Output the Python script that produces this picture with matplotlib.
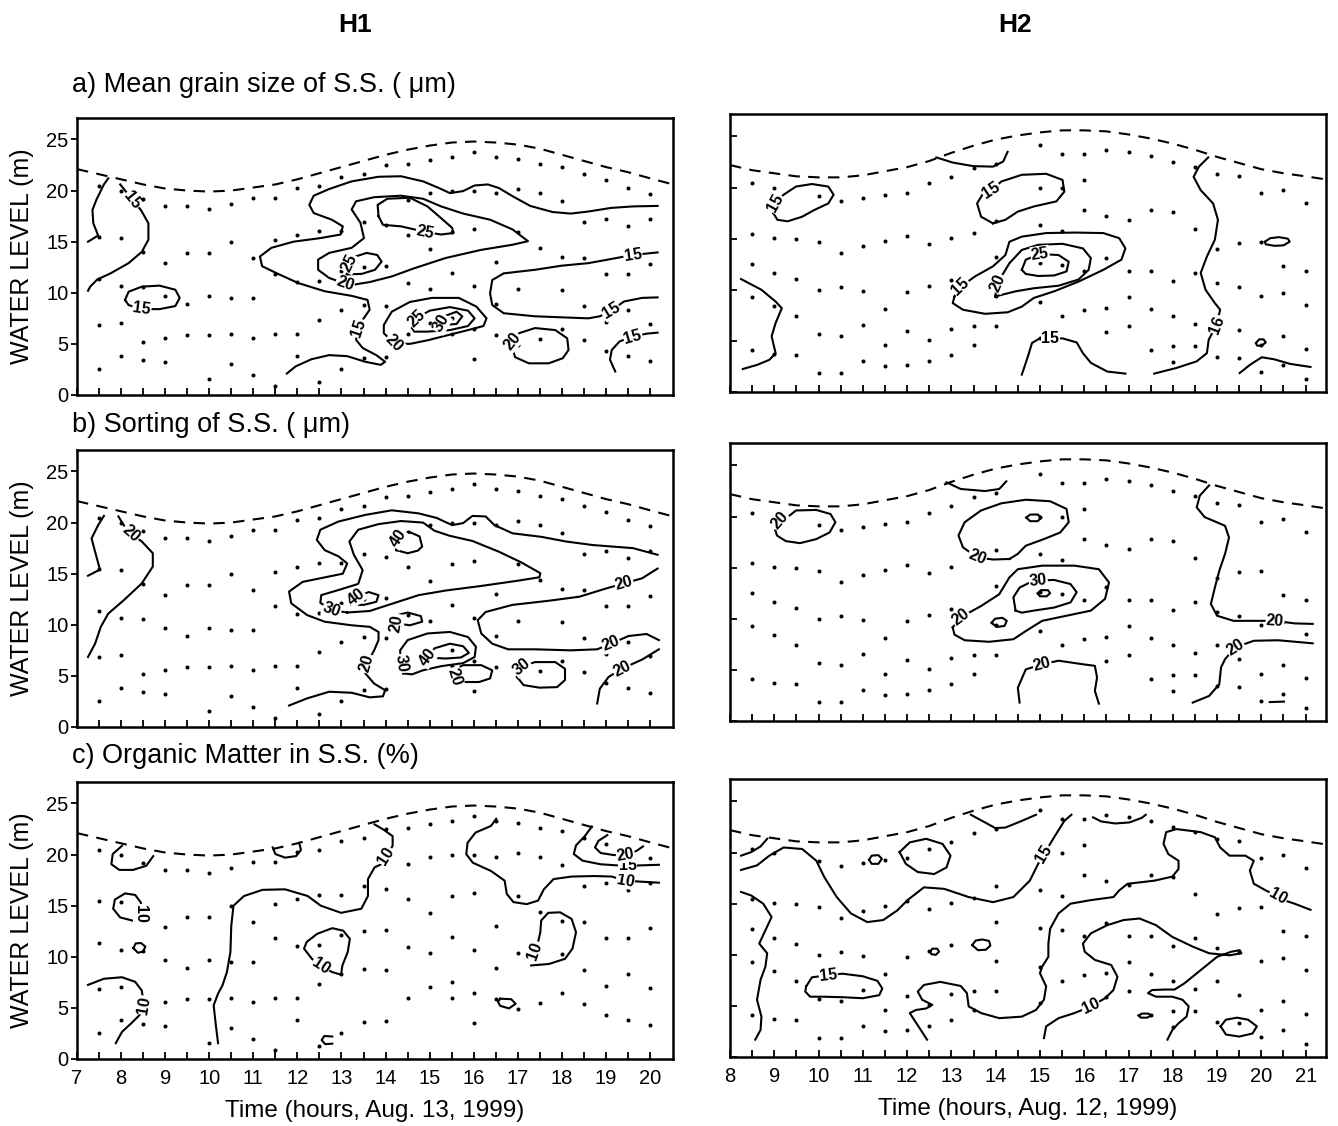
import numpy as np
import matplotlib
matplotlib.use("Agg")
import matplotlib.pyplot as plt

plt.rcParams['font.family'] = ['Liberation Sans', 'DejaVu Sans']

# sampling points (time in hours, water levels in m) for each station
h1_times = [7.5, 8.0, 8.5, 9.0, 9.5, 10.0, 10.5, 11.0, 11.5, 12.0, 12.5, 13.0, 13.5,
            14.0, 14.5, 15.0, 15.5, 16.0, 16.5, 17.0, 17.5, 18.0, 18.5, 19.0, 19.5, 20.0]
h1_levels = [[20.4, 15.5, 11.3, 6.8, 2.5], [20.0, 15.4, 10.7, 7.0, 3.8],
             [19.2, 14.0, 10.6, 5.2, 3.4], [18.5, 12.9, 9.7, 5.6, 3.2],
             [18.5, 13.9, 8.9, 5.9], [18.2, 13.9, 9.7, 5.9, 1.6],
             [18.7, 15.0, 9.5, 6.0, 3.0], [19.3, 13.4, 9.5, 5.6, 2.0],
             [19.3, 15.2, 11.8, 6.0, 0.9], [20.3, 15.7, 11.1, 6.0, 3.8],
             [20.4, 16.0, 11.2, 7.3, 1.3], [21.3, 16.0, 12.1, 8.3, 2.5],
             [21.6, 16.9, 12.5, 8.8, 3.6], [22.5, 16.6, 12.6, 8.7, 3.7],
             [22.6, 19.1, 15.7, 11.0, 6.0], [23.0, 19.8, 14.3, 10.4, 7.0],
             [23.3, 20.0, 15.9, 11.9, 7.5, 6.0], [23.8, 20.0, 16.2, 10.7, 6.5, 3.5],
             [23.3, 19.8, 13.0, 8.9, 5.9], [23.1, 20.2, 15.9, 10.4, 4.9],
             [22.6, 19.8, 14.4, 5.5], [22.3, 19.0, 13.5, 10.3, 6.5],
             [21.6, 16.9, 13.4, 8.7, 5.4], [21.0, 17.2, 11.8, 7.1, 4.3],
             [20.3, 16.5, 11.8, 8.3, 3.8], [19.7, 17.2, 12.8, 6.9, 3.3]]

h2_times = [8.5, 9.0, 9.5, 10.0, 10.5, 11.0, 11.5, 12.0, 12.5, 13.0, 13.5, 14.0,
            15.0, 15.5, 16.0, 16.5, 17.0, 17.5, 18.0, 18.5, 19.0, 19.5, 20.0, 20.5, 21.0]
h2_levels = [[20.4, 15.5, 12.5, 9.3, 4.1], [20.0, 15.1, 11.6, 8.4, 3.7],
             [15.0, 11.1, 7.4, 3.6], [19.2, 14.7, 10.0, 5.7, 1.9],
             [18.7, 13.6, 10.3, 5.5, 1.9], [19.0, 14.3, 9.9, 6.6, 3.0],
             [19.3, 14.8, 8.1, 4.6, 2.5], [19.5, 15.3, 9.8, 6.0, 2.6],
             [20.4, 14.5, 10.4, 5.1, 3.0], [21.0, 15.1, 11.0, 6.2, 3.6],
             [21.9, 15.6, 6.5, 4.6], [22.3, 16.7, 13.2, 9.4, 6.5],
             [24.2, 20.0, 16.3, 12.6, 8.8, 5.3], [23.3, 20.0, 15.8, 12.4, 7.4],
             [23.3, 20.7, 17.8, 11.8, 8.0], [23.7, 17.2, 13.1, 8.2, 5.9],
             [23.5, 16.8, 11.8, 9.3, 6.5], [23.1, 17.8, 11.8, 8.1, 4.1],
             [22.5, 17.6, 10.9, 7.4, 4.5, 2.9], [22.0, 15.9, 11.6, 6.7, 4.5],
             [21.3, 14.0, 10.7, 7.4, 3.4], [21.1, 14.6, 10.3, 6.1, 3.3],
             [19.5, 14.7, 9.4, 4.6, 2.0], [19.8, 12.3, 9.7, 5.5, 2.6],
             [18.5, 11.8, 8.5, 4.2, 1.3]]

# water surface (dashed line)
h1_surf_t = [7.0, 7.5, 8, 8.5, 9, 9.5, 10, 10.5, 11, 11.5, 12, 12.5, 13, 13.5, 14,
             14.5, 15, 15.5, 16, 16.5, 17, 17.5, 18, 18.5, 19, 19.5, 20, 20.52]
h1_surf_z = [22.1, 21.6, 21.1, 20.6, 20.2, 20.0, 19.9, 20.0, 20.3, 20.6, 21.1, 21.7, 22.3,
             22.9, 23.5, 24.0, 24.4, 24.7, 24.8, 24.7, 24.5, 24.1, 23.5, 22.9, 22.3, 21.8,
             21.2, 20.6]
h2_surf_t = [8.0, 8.5, 9, 9.5, 10, 10.5, 11, 11.5, 12, 12.5, 13, 13.5, 14, 14.5, 15,
             15.5, 16, 16.5, 17, 17.5, 18, 18.5, 19, 19.5, 20, 20.5, 21, 21.46]
h2_surf_z = [22.2, 21.7, 21.4, 21.1, 21.0, 21.0, 21.2, 21.6, 22.0, 22.6, 23.4, 24.1, 24.7,
             25.1, 25.4, 25.6, 25.6, 25.5, 25.2, 24.8, 24.3, 23.7, 23.0, 22.4, 21.8, 21.4,
             21.1, 20.8]

# isolines: (value, [(hour, level), ...], indices of labelled vertices)
h1_grain = [
    (15, [(7.25, 15.0), (7.48, 15.6), (7.37, 16.8), (7.35, 18.1), (7.44, 19.1), (7.61, 20.6), (7.71, 21.2)], []),
    (15, [(7.98, 20.6), (8.11, 19.9), (8.25, 19.05), (8.45, 18.1), (8.62, 16.8), (8.62, 15.2), (8.47, 14.0),
          (8.17, 12.9), (7.76, 11.9), (7.46, 11.3), (7.30, 10.6), (7.25, 10.2)], [2]),
    (15, [(8.09, 9.3), (8.17, 10.1), (8.47, 10.6), (8.87, 10.7), (9.23, 10.3), (9.33, 9.5), (9.23, 8.7),
          (8.87, 8.4), (8.47, 8.4), (8.17, 8.8), (8.09, 9.3)], [8]),
    (15, [(20.17, 18.5), (19.61, 18.45), (19.11, 18.3), (18.60, 17.95), (18.20, 17.75), (17.79, 17.9),
          (17.28, 18.5), (16.88, 19.45), (16.57, 20.25), (16.32, 20.6), (16.02, 20.5), (15.76, 19.95),
          (15.46, 19.75), (15.21, 20.25), (14.85, 20.9), (14.35, 21.4), (13.84, 21.35), (13.23, 20.9),
          (12.72, 20.15), (12.37, 19.5), (12.27, 18.6), (12.37, 17.8), (12.78, 17.15), (13.03, 16.5),
          (12.98, 15.7), (12.52, 15.35), (11.91, 15.0), (11.41, 14.4), (11.15, 13.55), (11.20, 12.6),
          (11.51, 11.95), (12.02, 10.95), (12.62, 10.15), (13.23, 9.7), (13.59, 9.3), (13.64, 8.35),
          (13.48, 7.35), (13.38, 6.55), (13.33, 5.4), (13.48, 4.6), (13.79, 3.9), (13.99, 3.25),
          (13.89, 2.95), (13.54, 3.25), (13.13, 3.8), (12.72, 3.9), (12.32, 3.5), (11.96, 2.8),
          (11.76, 2.1)], [37]),
    (15, [(20.17, 13.95), (19.61, 13.7), (19.11, 13.3), (18.60, 12.9), (17.99, 12.65), (17.39, 12.25),
          (16.68, 11.9), (16.42, 11.25), (16.37, 9.95), (16.42, 8.8), (16.68, 8.0), (17.39, 7.7),
          (17.99, 7.6), (18.60, 7.5), (18.86, 7.7), (19.11, 8.25), (19.41, 9.15), (19.82, 9.5),
          (20.17, 9.55)], [1, 15]),
    (20, [(13.08, 10.9), (12.72, 11.45), (12.47, 12.25), (12.47, 13.25), (12.72, 13.9), (13.23, 14.4),
          (13.51, 15.35), (13.43, 16.85), (13.23, 18.15), (13.33, 18.95), (13.74, 19.35), (14.35, 19.5),
          (14.85, 19.2), (15.26, 18.45), (15.76, 17.75), (16.37, 17.15), (16.88, 16.2), (17.23, 15.05),
          (16.88, 14.7), (16.17, 14.2), (15.36, 13.4), (14.65, 12.4), (14.14, 11.6), (13.64, 11.05),
          (13.28, 10.8), (13.08, 10.9)], [0]),
    (25, [(13.84, 17.5), (13.82, 18.6), (14.04, 19.2), (14.55, 19.3), (14.95, 18.45), (15.26, 17.3),
          (15.51, 16.35), (15.54, 15.85), (15.26, 15.7), (14.90, 15.95), (14.35, 16.5), (13.94, 16.65),
          (13.84, 17.5)], [9]),
    (25, [(13.12, 11.8), (13.17, 12.9), (13.32, 13.55), (13.57, 13.9), (13.81, 13.7), (13.91, 13.05),
          (13.76, 12.25), (13.46, 11.85), (13.12, 11.8)], [1]),
    (20, [(14.19, 5.05), (13.96, 6.05), (13.96, 6.85), (14.14, 8.15), (14.55, 9.1), (15.05, 9.5),
          (15.66, 9.5), (16.06, 8.65), (16.29, 7.5), (16.22, 6.75), (15.87, 6.35), (15.36, 5.8),
          (14.95, 5.35), (14.55, 5.0), (14.19, 5.05)], [0]),
    (25, [(14.60, 6.55), (14.70, 7.5), (15.0, 8.25), (15.46, 8.6), (15.87, 8.25), (16.02, 7.5),
          (15.87, 6.75), (15.46, 6.35), (14.95, 6.2), (14.65, 6.2), (14.60, 6.55)], [1]),
    (30, [(15.26, 7.0), (15.36, 7.75), (15.61, 8.15), (15.74, 7.7), (15.61, 6.95), (15.31, 6.85),
          (15.26, 7.0)], [0]),
    (20, [(16.88, 5.25), (17.03, 6.05), (17.39, 6.55), (17.85, 6.35), (18.12, 5.55), (18.15, 4.4),
          (18.02, 3.6), (17.70, 3.1), (17.25, 3.1), (16.94, 3.7), (16.87, 4.6), (16.88, 5.25)], [0]),
    (15, [(19.21, 2.3), (19.09, 3.45), (19.13, 4.4), (19.31, 5.25), (19.61, 5.7), (19.92, 6.0),
          (20.17, 6.1)], [4]),
]

h1_sorting = [
    (20, [(7.25, 14.8), (7.52, 15.4), (7.42, 17.0), (7.33, 18.45), (7.48, 19.75), (7.61, 20.65)], []),
    (20, [(7.94, 20.6), (8.06, 19.75), (8.22, 18.9), (8.47, 18.15), (8.72, 17.0), (8.72, 15.7),
          (8.47, 14.05), (8.06, 12.4), (7.71, 11.1), (7.54, 9.8), (7.41, 8.15), (7.25, 6.85)], [2]),
    (20, [(20.17, 16.85), (19.61, 17.5), (18.70, 17.8), (18.09, 18.15), (17.54, 18.6), (16.88, 18.95),
          (16.47, 19.75), (16.27, 20.6), (15.97, 20.65), (15.76, 19.95), (15.51, 19.75), (15.16, 20.45),
          (14.75, 20.9), (14.14, 21.2), (13.54, 20.75), (12.93, 20.1), (12.52, 19.3), (12.44, 18.3),
          (12.62, 17.3), (12.93, 16.7), (13.13, 16.0), (13.03, 15.0), (12.52, 14.55), (12.12, 14.2),
          (11.81, 13.25), (11.86, 12.1), (12.22, 10.95), (12.62, 10.3), (13.23, 9.95), (13.64, 9.8),
          (13.84, 9.3), (13.84, 8.5), (13.74, 7.5), (13.64, 6.7), (13.58, 6.2), (13.54, 5.25),
          (13.74, 4.25), (13.99, 3.6), (13.94, 3.0), (13.64, 2.9), (13.23, 3.35), (12.72, 3.45),
          (12.22, 2.8), (11.81, 2.1)], [34]),
    (20, [(20.17, 15.5), (19.82, 14.55), (19.41, 14.05), (19.0, 13.55), (18.40, 12.75), (17.70, 12.35),
          (16.88, 11.95), (16.27, 11.25), (16.09, 10.45), (16.17, 9.15), (16.42, 8.15), (16.78, 7.6),
          (17.39, 7.6), (18.20, 7.5), (18.80, 7.6), (19.11, 8.15), (19.51, 8.9), (19.92, 9.1),
          (20.20, 8.5)], [2, 15]),
    (20, [(18.80, 2.3), (18.86, 3.75), (19.06, 4.9), (19.36, 5.7), (19.82, 6.6), (20.20, 7.6)], [3]),
    (30, [(13.13, 11.2), (12.78, 11.45), (12.52, 12.15), (12.54, 12.9), (12.93, 13.4), (13.38, 14.0),
          (13.48, 15.35), (13.28, 16.85), (13.18, 18.15), (13.38, 19.3), (13.84, 19.85), (14.35, 20.15),
          (14.85, 20.0), (15.11, 19.2), (15.46, 18.7), (15.97, 18.2), (16.57, 17.15), (17.08, 16.1),
          (17.51, 15.05), (17.49, 14.65), (16.98, 14.3), (16.17, 13.8), (15.36, 13.35), (14.75, 12.9),
          (14.14, 12.05), (13.64, 11.35), (13.13, 11.2)], [1]),
    (40, [(14.24, 17.3), (14.29, 18.45), (14.53, 19.1), (14.77, 18.65), (14.83, 17.65), (14.73, 17.25),
          (14.50, 17.0), (14.29, 17.25), (14.24, 17.3)], [1]),
    (40, [(13.23, 11.95), (13.33, 12.75), (13.62, 13.2), (13.84, 12.9), (13.79, 12.25), (13.51, 11.95),
          (13.23, 11.95)], [1]),
    (20, [(14.24, 10.15), (14.27, 10.95), (14.50, 11.2), (14.80, 10.85), (14.83, 10.3), (14.55, 9.95),
          (14.24, 10.15)], [0]),
    (30, [(14.40, 5.25), (14.35, 6.2), (14.33, 7.5), (14.50, 8.5), (14.95, 9.15), (15.46, 9.3),
          (15.87, 8.8), (16.05, 7.85), (16.02, 6.85), (15.76, 6.25), (15.26, 5.95), (14.85, 5.55),
          (14.60, 5.15), (14.40, 5.25)], [1]),
    (40, [(14.95, 6.8), (15.11, 7.7), (15.46, 8.15), (15.76, 7.9), (15.89, 7.25), (15.71, 6.8),
          (15.36, 6.7), (14.95, 6.8)], [0]),
    (20, [(15.56, 4.9), (15.51, 5.55), (15.76, 6.05), (16.17, 6.05), (16.42, 5.55), (16.37, 4.75),
          (16.12, 4.4), (15.76, 4.4), (15.56, 4.9)], [0]),
    (30, [(16.98, 4.9), (17.08, 5.9), (17.39, 6.35), (17.85, 6.35), (18.07, 5.7), (18.07, 4.6),
          (17.89, 3.9), (17.49, 3.85), (17.13, 4.1), (16.98, 4.9)], [1]),
]

h1_organic = [
    (10, [(8.02, 20.85), (7.81, 20.05), (7.78, 19.05), (7.96, 18.5), (8.27, 18.5), (8.57, 18.9),
          (8.73, 19.85)], []),
    (10, [(8.25, 13.55), (7.98, 13.85), (7.82, 14.7), (7.86, 15.6), (8.09, 16.2), (8.32, 16.05),
          (8.45, 15.3), (8.45, 14.2)], [7]),
    (10, [(8.28, 10.85), (8.33, 11.3), (8.45, 11.35), (8.55, 11.0), (8.5, 10.5), (8.38, 10.4),
          (8.28, 10.85)], []),
    (10, [(7.25, 7.25), (7.61, 7.85), (8.02, 8.0), (8.32, 7.55), (8.47, 6.7), (8.49, 6.05), (8.52, 5.25),
          (8.42, 4.3), (8.22, 3.45), (8.02, 2.65), (7.88, 1.55)], [6]),
    (10, [(10.20, 1.55), (10.15, 3.3), (10.10, 5.25), (10.20, 6.4), (10.30, 7.2), (10.40, 8.5),
          (10.48, 10.45), (10.50, 13.05), (10.55, 15.0), (10.79, 15.95), (11.21, 16.55), (11.72, 16.6),
          (12.23, 15.95), (12.53, 15.0), (12.99, 14.3), (13.45, 14.7), (13.60, 15.95), (13.60, 17.6),
          (13.75, 18.75), (13.90, 19.05), (14.01, 19.85), (14.16, 20.85), (14.16, 21.8), (13.95, 22.45),
          (13.75, 22.95)], [20]),
    (10, [(11.44, 20.7), (11.50, 20.05), (11.72, 19.7), (11.97, 19.85), (12.08, 20.45), (12.04, 21.15)], []),
    (10, [(12.99, 8.25), (13.02, 9.15), (13.14, 10.45), (13.19, 11.75), (13.04, 12.55), (12.79, 12.8),
          (12.45, 12.25), (12.21, 11.45), (12.15, 10.8), (12.33, 9.8), (12.53, 9.1), (12.79, 8.5),
          (12.99, 8.25)], [10]),
    (10, [(12.79, 2.2), (12.61, 2.25), (12.55, 1.85), (12.63, 1.45), (12.79, 1.5)], []),
    (10, [(16.51, 23.5), (16.39, 22.8), (16.04, 22.15), (15.86, 21.15), (15.83, 20.05), (15.98, 19.2),
          (16.39, 18.4), (16.70, 17.45), (16.75, 16.15), (16.90, 15.35), (17.20, 15.15), (17.46, 15.5),
          (17.59, 16.6), (17.81, 17.6), (18.22, 17.85), (18.73, 17.9), (19.13, 17.85), (19.44, 17.45),
          (19.79, 17.35), (20.20, 17.25)], [17]),
    (15, [(18.68, 22.75), (18.52, 21.8), (18.32, 20.9), (18.27, 20.05), (18.47, 19.4), (18.88, 19.05),
          (19.23, 18.95), (19.49, 18.9), (19.84, 18.95), (20.20, 19.0)], [7]),
    (20, [(19.03, 21.9), (18.83, 21.35), (18.75, 20.7), (18.88, 20.15), (19.18, 19.95), (19.44, 20.0),
          (19.69, 20.35), (19.84, 20.8)], [5]),
    (10, [(17.30, 9.15), (17.71, 9.3), (18.07, 9.8), (18.24, 10.8), (18.32, 12.4), (18.22, 13.7),
          (17.96, 14.35), (17.69, 14.3), (17.53, 13.55), (17.51, 12.4), (17.46, 11.45), (17.39, 10.6)], [11]),
    (10, [(16.6, 5.9), (16.85, 5.85), (16.95, 5.4), (16.8, 4.95), (16.6, 5.2), (16.55, 5.6), (16.6, 5.9)], []),
]

h2_grain = [
    (15, [(12.66, 22.95), (13.03, 22.45), (13.49, 22.1), (13.94, 22.05), (14.17, 22.55), (14.27, 23.5)], []),
    (15, [(8.98, 17.5), (9.03, 18.45), (9.21, 19.3), (9.49, 20.1), (9.85, 20.35), (10.22, 20.1),
          (10.34, 19.3), (10.22, 18.45), (9.90, 17.8), (9.63, 17.15), (9.30, 16.7), (9.07, 16.85),
          (8.98, 17.5)], [1]),
    (15, [(13.94, 16.5), (13.67, 17.15), (13.58, 18.45), (13.72, 19.45), (13.90, 19.75), (14.13, 20.6),
          (14.59, 21.25), (15.14, 21.35), (15.51, 20.75), (15.55, 19.6), (15.37, 18.65), (14.86, 18.15),
          (14.50, 17.65), (14.22, 16.85), (13.94, 16.5)], [4]),
    (15, [(13.07, 9.35), (13.21, 10.3), (13.53, 11.3), (13.94, 12.3), (14.22, 13.4), (14.31, 14.7),
          (14.59, 15.2), (15.14, 15.55), (15.78, 15.6), (16.43, 15.55), (16.79, 15.05), (16.93, 14.05),
          (16.84, 12.95), (16.43, 11.95), (15.87, 10.8), (15.32, 9.85), (14.86, 9.2), (14.59, 8.35),
          (14.27, 7.8), (13.76, 7.65), (13.26, 8.05), (13.03, 8.7), (13.07, 9.35)], [1]),
    (20, [(13.99, 9.35), (14.04, 10.65), (14.31, 12.6), (14.59, 13.9), (14.96, 14.4), (15.51, 14.5),
          (15.97, 14.05), (16.15, 13.1), (16.10, 11.95), (15.87, 11.0), (15.42, 10.4), (14.86, 10.15),
          (14.45, 9.85), (14.13, 9.5), (13.99, 9.35)], [1]),
    (25, [(14.59, 11.95), (14.68, 12.95), (15.0, 13.5), (15.42, 13.4), (15.65, 12.75), (15.60, 11.8),
          (15.32, 11.4), (14.96, 11.35), (14.68, 11.55), (14.59, 11.95)], [2]),
    (15, [(8.25, 11.05), (8.71, 10.0), (9.03, 8.85), (9.17, 8.2), (9.03, 6.75), (8.94, 5.45), (9.03, 3.8),
          (8.89, 3.15), (8.61, 2.65), (8.29, 2.25)], []),
    (15, [(14.59, 1.7), (14.73, 3.5), (14.82, 4.8), (15.0, 5.25), (15.23, 5.2), (15.51, 5.25),
          (15.83, 4.85), (15.97, 3.8), (16.15, 2.85), (16.52, 2.0), (16.93, 1.8)], [4]),
    (16, [(18.80, 22.95), (18.59, 22.05), (18.47, 21.05), (18.63, 19.75), (18.91, 18.45), (19.02, 16.85),
          (18.95, 14.9), (18.77, 13.25), (18.63, 11.65), (18.74, 10.0), (18.95, 8.7), (19.07, 8.05),
          (18.99, 6.6), (18.81, 5.1), (18.77, 3.8), (18.54, 3.0), (18.08, 2.35), (17.58, 1.8)], [12]),
    (15, [(20.08, 14.7), (20.2, 15.05), (20.4, 15.15), (20.6, 15.0), (20.64, 14.7), (20.5, 14.35),
          (20.3, 14.3), (20.1, 14.45), (20.08, 14.7)], []),
    (15, [(19.88, 4.8), (19.95, 5.15), (20.05, 5.15), (20.1, 4.85), (20.0, 4.5), (19.9, 4.55),
          (19.88, 4.8)], []),
    (15, [(19.51, 1.85), (19.74, 2.65), (20.01, 3.4), (20.29, 3.2), (20.65, 2.75), (21.11, 2.45)], []),
]

h2_sorting = [
    (20, [(12.89, 23.35), (13.21, 22.7), (13.76, 22.5), (14.08, 22.7), (14.24, 23.45)], []),
    (20, [(9.03, 18.65), (9.12, 19.6), (9.26, 19.8), (9.49, 20.6), (9.95, 20.65), (10.27, 20.25),
          (10.38, 19.45), (10.25, 18.45), (9.95, 17.8), (9.58, 17.4), (9.26, 17.6), (9.06, 18.15),
          (9.03, 18.65)], [1]),
    (20, [(14.31, 15.85), (13.94, 15.8), (13.58, 16.0), (13.26, 17.0), (13.16, 18.15), (13.30, 19.45),
          (13.67, 20.6), (14.13, 21.3), (14.68, 21.65), (15.23, 21.5), (15.60, 20.75), (15.65, 19.45),
          (15.46, 18.45), (15.09, 17.8), (14.68, 17.15), (14.50, 16.35), (14.31, 15.85)], [2]),
    (30, [(14.69, 19.9), (14.78, 20.2), (14.95, 20.2), (15.03, 19.9), (14.95, 19.55), (14.78, 19.55),
          (14.69, 19.9)], []),
    (20, [(13.03, 9.15), (13.21, 10.15), (13.67, 11.25), (14.08, 12.4), (14.31, 14.05), (14.50, 14.85),
          (15.05, 15.2), (15.78, 15.2), (16.33, 14.85), (16.56, 13.55), (16.47, 11.95), (16.15, 10.8),
          (15.60, 10.3), (15.05, 9.8), (14.68, 8.8), (14.40, 8.0), (13.85, 7.75), (13.30, 7.9),
          (13.07, 8.45), (13.03, 9.15)], [1]),
    (30, [(14.45, 10.8), (14.40, 12.1), (14.54, 13.05), (14.77, 13.55), (14.96, 13.75), (15.32, 13.8),
          (15.69, 13.4), (15.83, 12.6), (15.69, 11.6), (15.32, 11.1), (14.86, 10.8), (14.59, 10.6),
          (14.45, 10.8)], [4]),
    (40, [(14.95, 12.5), (15.02, 12.8), (15.18, 12.8), (15.23, 12.5), (15.15, 12.2), (15.0, 12.2),
          (14.95, 12.5)], []),
    (30, [(13.91, 9.6), (13.98, 10.0), (14.15, 10.1), (14.25, 9.8), (14.2, 9.3), (14.02, 9.2),
          (13.91, 9.6)], []),
    (20, [(14.54, 1.8), (14.50, 3.25), (14.68, 5.05), (15.05, 5.55), (15.42, 5.9), (15.97, 5.55),
          (16.24, 5.4), (16.29, 4.25), (16.24, 2.95), (16.33, 1.7)], [3]),
    (20, [(18.82, 23.05), (18.61, 22.05), (18.54, 20.9), (18.72, 19.95), (19.18, 19.1), (19.27, 17.95),
          (19.18, 16.35), (19.05, 14.7), (18.95, 13.05), (18.86, 11.45), (19.0, 10.3), (19.37, 9.8),
          (19.83, 9.8), (20.31, 9.8), (20.75, 9.55), (21.16, 9.5)], [13]),
    (20, [(18.45, 1.8), (18.82, 2.45), (19.05, 3.6), (19.09, 5.25), (19.18, 6.05), (19.41, 7.2),
          (19.83, 7.85), (20.38, 7.9), (21.16, 7.6)], [5]),
    (20, [(20.19, 1.85), (20.51, 1.9)], []),
]

h2_organic = [
    (10, [(8.25, 19.7), (8.48, 20.05), (8.69, 20.6), (8.84, 21.35)], []),
    (15, [(8.25, 18.3), (8.61, 18.75), (8.89, 19.7), (9.21, 20.5), (9.63, 20.35), (9.95, 19.2),
          (10.13, 17.6), (10.41, 15.65), (10.73, 14.05), (11.10, 13.2), (11.46, 13.4), (11.78, 14.35),
          (12.01, 15.35), (12.38, 16.6), (12.84, 16.45), (13.39, 15.65), (13.94, 15.15), (14.40, 15.65),
          (14.77, 17.25), (14.96, 18.9), (15.09, 19.85), (15.32, 21.5), (15.55, 23.1), (15.71, 23.7)], [20]),
    (15, [(13.44, 23.7), (13.76, 22.95), (13.99, 22.4), (14.22, 22.45), (14.59, 23.1), (14.91, 23.7)], []),
    (15, [(16.20, 23.45), (16.38, 23.05), (16.70, 22.85), (17.02, 22.95), (17.30, 23.4), (17.39, 23.7)], []),
    (15, [(11.14, 19.3), (11.2, 19.7), (11.35, 19.75), (11.43, 19.4), (11.35, 18.9), (11.2, 18.9),
          (11.14, 19.3)], []),
    (15, [(11.83, 20.05), (12.06, 21.0), (12.43, 21.35), (12.80, 20.85), (12.98, 19.7), (12.89, 18.55),
          (12.61, 17.9), (12.24, 18.1), (11.97, 18.9), (11.83, 20.05)], []),
    (10, [(21.11, 14.4), (20.75, 15.0), (20.47, 15.4), (20.38, 15.7), (20.10, 16.3), (19.83, 16.95),
          (19.74, 18.25), (19.83, 19.2), (19.64, 19.7), (19.28, 19.7), (19.07, 20.5), (18.95, 21.5),
          (18.63, 22.0), (18.36, 22.15), (18.08, 22.3), (17.85, 22.0), (17.79, 20.85), (17.90, 19.85),
          (18.13, 19.2), (18.13, 18.4), (17.99, 17.65), (17.58, 17.25), (16.98, 16.95), (16.79, 16.3),
          (16.66, 15.65), (16.15, 15.35), (15.69, 15.0), (15.42, 14.05), (15.23, 12.55), (15.19, 11.1),
          (15.19, 9.8), (15.05, 8.85), (15.0, 8.2), (15.14, 6.9), (15.09, 5.6), (14.91, 4.6),
          (14.59, 3.95), (14.08, 3.8), (13.67, 4.3), (13.39, 4.95), (13.35, 6.25), (13.21, 6.95),
          (12.75, 7.35), (12.38, 7.05), (12.24, 6.4), (12.34, 5.6), (12.57, 5.1), (12.43, 4.75),
          (12.20, 4.6), (12.06, 4.3), (12.45, 1.7)], [3]),
    (10, [(15.09, 1.85), (15.14, 3.0), (15.42, 3.8), (15.78, 4.3), (16.15, 4.95), (16.47, 5.75),
          (16.66, 6.55), (16.75, 7.85), (16.61, 9.0), (16.24, 9.5), (16.01, 10.3), (15.97, 11.1),
          (16.15, 12.1), (16.52, 12.9), (16.89, 13.4), (17.25, 13.55), (17.62, 12.9), (17.99, 11.75),
          (18.45, 10.8), (18.82, 10.15), (19.28, 9.95), (19.55, 10.15), (19.51, 10.45), (19.32, 10.3),
          (19.0, 9.8), (18.63, 8.5), (18.26, 7.2), (18.04, 6.6), (17.81, 6.6), (17.53, 6.55),
          (17.44, 6.25), (17.62, 5.9), (17.99, 5.9), (18.22, 5.6), (18.36, 4.95), (18.31, 3.95),
          (18.13, 3.3), (17.99, 2.65), (17.88, 1.7)], [4]),
    (15, [(8.25, 16.15), (8.48, 15.8), (8.75, 15.0), (8.94, 13.7), (8.80, 12.4), (8.66, 11.1),
          (8.84, 10.15), (8.80, 8.85), (8.69, 7.55), (8.61, 5.6), (8.71, 3.95), (8.69, 2.65),
          (8.57, 1.7)], []),
    (15, [(9.72, 6.9), (9.85, 7.8), (10.22, 8.0), (10.54, 8.15), (11.0, 7.9), (11.33, 7.45), (11.44, 6.7),
          (11.37, 6.05), (11.0, 5.75), (10.54, 5.85), (10.08, 5.9), (9.81, 5.9), (9.70, 6.4),
          (9.72, 6.9)], [2]),
    (15, [(12.52, 10.3), (12.57, 10.6), (12.68, 10.6), (12.72, 10.3), (12.65, 10.0), (12.55, 10.05),
          (12.52, 10.3)], []),
    (15, [(13.47, 10.95), (13.55, 11.4), (13.7, 11.5), (13.85, 11.35), (13.88, 10.9), (13.78, 10.5),
          (13.6, 10.45), (13.47, 10.95)], []),
    (10, [(17.23, 4.05), (17.3, 4.25), (17.45, 4.25), (17.51, 4.05), (17.42, 3.85), (17.28, 3.85),
          (17.23, 4.05)], []),
    (10, [(19.08, 3.0), (19.2, 3.65), (19.45, 3.85), (19.7, 3.65), (19.9, 3.0), (19.8, 2.3), (19.5, 2.0),
          (19.2, 2.2), (19.08, 3.0)], []),
]

titles = ["a) Mean grain size of S.S. ( \u03bcm)", "b) Sorting of S.S. ( \u03bcm)",
          "c) Organic Matter in S.S. (%)"]

W, H = 1338, 1126
fig = plt.figure(figsize=(W / 100, H / 100), dpi=100)

# axes boxes in pixels: (left, top, right, bottom)
left_boxes = [(77, 118, 673, 395), (77, 450, 673, 727), (77, 782, 673, 1059)]
right_boxes = [(730, 114, 1326, 392), (730, 443, 1326, 721), (730, 779, 1326, 1057)]
title_y = [85, 425, 756]


def make_ax(box):
    l, t, r, b = box
    return fig.add_axes([l / W, 1 - b / H, (r - l) / W, (b - t) / H])


def draw_panel(ax, times, levels, surf_t, surf_z, contours, xlim, ylim):
    ax.set_xlim(*xlim)
    ax.set_ylim(*ylim)
    pts_t = [t for t, zs in zip(times, levels) for _ in zs]
    pts_z = [z for zs in levels for z in zs]
    ax.plot(pts_t, pts_z, 'o', color='black', ms=2.9, mew=0, zorder=4)
    ax.plot(surf_t, surf_z, color='black', lw=1.5, ls=(0, (5.5, 4)), zorder=3)
    for val, pts, lab in contours:
        xs = [p[0] for p in pts]
        ys = [p[1] for p in pts]
        ax.plot(xs, ys, color='black', lw=1.5, zorder=2, solid_joinstyle='round')
        for i in lab:
            i0 = max(i - 1, 0)
            i1 = min(i + 1, len(pts) - 1)
            p0 = ax.transData.transform(pts[i0])
            p1 = ax.transData.transform(pts[i1])
            ang = np.degrees(np.arctan2(p1[1] - p0[1], p1[0] - p0[0]))
            if ang > 90:
                ang -= 180
            elif ang < -90:
                ang += 180
            ax.text(pts[i][0], pts[i][1], str(val), fontsize=11.5, fontweight='bold',
                    rotation=ang, rotation_mode='anchor', ha='center', va='center', zorder=5,
                    bbox=dict(boxstyle='square,pad=0.04', fc='white', ec='none'))
    for sp in ax.spines.values():
        sp.set_linewidth(1.8)


panels_h1 = [h1_grain, h1_sorting, h1_organic]
panels_h2 = [h2_grain, h2_sorting, h2_organic]

for k in range(3):
    ax = make_ax(left_boxes[k])
    draw_panel(ax, h1_times, h1_levels, h1_surf_t, h1_surf_z, panels_h1[k], (7, 20.52), (0, 27.1))
    ax.set_xticks(np.arange(7, 21, 1))
    ax.set_xticks(np.arange(7.5, 20.5, 1), minor=True)
    ax.set_yticks([0, 5, 10, 15, 20, 25])
    ax.tick_params(axis='x', which='both', direction='in', length=5, width=1.3,
                   labelsize=14.5, labelbottom=(k == 2), pad=7)
    ax.tick_params(axis='y', direction='out', length=4, width=1.3, labelsize=14.5, pad=2)
    l, t, r, b = left_boxes[k]
    fig.text(l / W - 0.004, 1 - title_y[k] / H, titles[k], fontsize=19.5, ha='left', va='center')
    fig.text(22 / W, 1 - (t + b) / 2 / H, "WATER LEVEL (m)", fontsize=18, rotation=90,
             ha='center', va='center')
    if k == 2:
        ax.set_xlabel("Time (hours, Aug. 13, 1999)", fontsize=17.5, labelpad=9)

    ax2 = make_ax(right_boxes[k])
    draw_panel(ax2, h2_times, h2_levels, h2_surf_t, h2_surf_z, panels_h2[k], (8, 21.46), (0, 27.2))
    ax2.set_xticks(np.arange(8, 22, 1))
    ax2.set_xticks(np.arange(8.5, 21.5, 1), minor=True)
    ax2.set_yticks([0, 5, 10, 15, 20, 25])
    ax2.tick_params(axis='x', which='both', direction='in', length=5, width=1.3,
                    labelsize=14.5, labelbottom=(k == 2), pad=7)
    ax2.tick_params(axis='y', direction='in', length=5, width=1.3, labelleft=False)
    if k == 2:
        ax2.set_xlabel("Time (hours, Aug. 12, 1999)", fontsize=17.5, labelpad=9)

fig.text(355 / W, 1 - 25 / H, "H1", fontsize=19, fontweight='bold', ha='center', va='center')
fig.text(1015 / W, 1 - 25 / H, "H2", fontsize=19, fontweight='bold', ha='center', va='center')

fig.savefig("out.png", dpi=100)
